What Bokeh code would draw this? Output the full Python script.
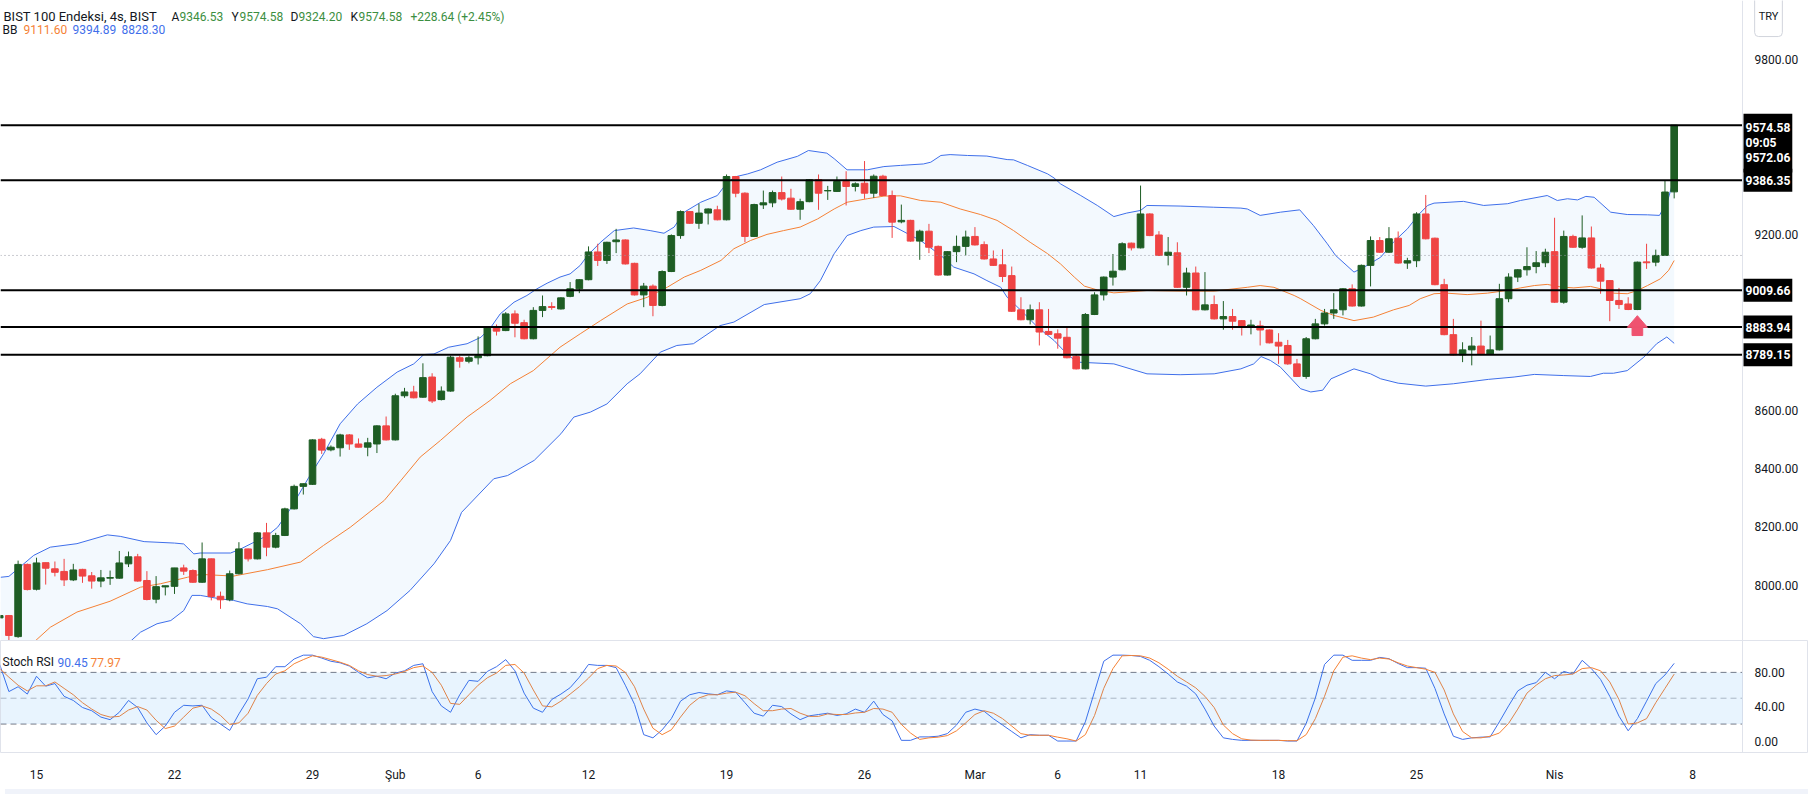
from bokeh.plotting import figure
from bokeh.models import (Range1d, FixedTicker, BoxAnnotation, Label, LinearAxis,
                          ColumnDataSource, PrintfTickFormatter, Div)
from bokeh.layouts import column
from bokeh.embed import file_html
from bokeh.resources import INLINE

# ---------------- data (4h bars, index 0 = first visible bar) ----------------
open_ = [7889, 7897, 7825, 8072, 7987, 8078, 8057, 8048, 8019, 8055,
         8033, 8015, 8025, 8025, 8074, 8098, 8017, 7953, 7995, 7997,
         8060, 8051, 8011, 8091, 7963, 7951, 8040, 8125, 8091, 8180,
         8131, 8171, 8262, 8339, 8346, 8500, 8464, 8471, 8515, 8484,
         8473, 8484, 8546, 8498, 8649, 8662, 8644, 8713, 8636, 8665,
         8779, 8767, 8779, 8786, 8886, 8872, 8929, 8899, 8844, 8941,
         8954, 8946, 8989, 9015, 9046, 9141, 9112, 9176, 9182, 9102,
         8994, 9024, 8958, 9074, 9197, 9279, 9239, 9274, 9285, 9251,
         9399, 9342, 9194, 9302, 9309, 9344, 9325, 9287, 9313, 9388,
         9350, 9348, 9382, 9365, 9376, 9342, 9400, 9334, 9244, 9249,
         9178, 9212, 9160, 9062, 9142, 9160, 9194, 9166, 9117, 9097,
         9060, 8943, 8909, 8943, 8869, 8861, 8849, 8783, 8741, 8927,
         8994, 9055, 9080, 9171, 9155, 9271, 9199, 9129, 9138, 9020,
         9069, 8943, 8961, 8912, 8920, 8906, 8887, 8888, 8874, 8832,
         8821, 8758, 8715, 8844, 8895, 8932, 8943, 9015, 8956, 9095,
         9180, 9140, 9188, 9103, 9111, 9271, 9188, 9029, 8858, 8789,
         8806, 8819, 8792, 8806, 8981, 9055, 9080, 9091, 9104, 9142,
         8969, 9194, 9157, 9189, 9086, 9043, 8975, 8963, 8944, 9107,
         9106, 9129, 9346.53]
high_ = [7900, 7899, 8085, 8075, 8095, 8078, 8082, 8091, 8074, 8057,
         8046, 8053, 8051, 8118, 8116, 8108, 8049, 8032, 7999, 8060,
         8071, 8055, 8147, 8092, 7979, 8051, 8148, 8126, 8182, 8214,
         8180, 8266, 8345, 8349, 8500, 8505, 8479, 8519, 8518, 8503,
         8505, 8548, 8578, 8656, 8676, 8683, 8760, 8726, 8681, 8786,
         8786, 8786, 8852, 8886, 8893, 8935, 8941, 8909, 8952, 8992,
         8969, 8986, 9038, 9048, 9160, 9169, 9176, 9220, 9184, 9104,
         9035, 9030, 9078, 9201, 9283, 9281, 9306, 9290, 9299, 9406,
         9401, 9345, 9306, 9351, 9351, 9399, 9357, 9323, 9390, 9406,
         9367, 9399, 9417, 9379, 9452, 9406, 9405, 9351, 9303, 9251,
         9217, 9237, 9163, 9144, 9197, 9214, 9226, 9177, 9146, 9150,
         9091, 8986, 8961, 8969, 8946, 8876, 8884, 8792, 8932, 9003,
         9057, 9134, 9174, 9173, 9368, 9273, 9212, 9192, 9174, 9087,
         9091, 9072, 8992, 8973, 8946, 8908, 8909, 8906, 8876, 8863,
         8840, 8775, 8850, 8912, 8946, 9000, 9017, 9030, 9098, 9194,
         9192, 9226, 9211, 9121, 9277, 9336, 9190, 9049, 8912, 8832,
         8850, 8906, 8855, 9032, 9068, 9082, 9157, 9144, 9152, 9258,
         9214, 9200, 9266, 9228, 9100, 9045, 9018, 8986, 9108, 9169,
         9149, 9385, 9574.58]
low_ = [7885, 7795, 7821, 7983, 7983, 8003, 8031, 7998, 8015, 8009,
        7989, 7994, 8002, 8023, 8063, 8013, 7949, 7939, 7966, 7971,
        8036, 8009, 8009, 7949, 7920, 7946, 8038, 8082, 8089, 8100,
        8127, 8169, 8260, 8311, 8344, 8450, 8459, 8441, 8464, 8472,
        8442, 8453, 8496, 8496, 8642, 8640, 8642, 8624, 8633, 8663,
        8745, 8760, 8756, 8784, 8855, 8870, 8849, 8842, 8842, 8918,
        8943, 8944, 8986, 9000, 9044, 9093, 9100, 9137, 9098, 8992,
        8952, 8921, 8955, 9072, 9186, 9237, 9220, 9235, 9249, 9249,
        9328, 9174, 9192, 9288, 9294, 9317, 9285, 9251, 9311, 9285,
        9319, 9346, 9300, 9348, 9323, 9326, 9332, 9189, 9239, 9176,
        9114, 9137, 9060, 9060, 9106, 9129, 9163, 9115, 9093, 9038,
        8936, 8907, 8893, 8821, 8857, 8810, 8777, 8739, 8739, 8925,
        8975, 9026, 9078, 9146, 9153, 9195, 9127, 9095, 9018, 8992,
        8941, 8941, 8910, 8875, 8875, 8855, 8859, 8821, 8828, 8758,
        8755, 8713, 8707, 8842, 8889, 8912, 8924, 8954, 8954, 9023,
        9138, 9138, 9101, 9083, 9089, 9184, 9027, 8856, 8787, 8764,
        8753, 8788, 8790, 8804, 8969, 9038, 9060, 9068, 9089, 8967,
        8964, 9155, 9152, 9084, 8998, 8904, 8946, 8942, 8942, 9083,
        9092, 9127, 9324.20]
close_ = [7897, 7829, 8072, 7986, 8077, 8059, 8045, 8019, 8053, 8032,
          8015, 8026, 8027, 8077, 8098, 8015, 7952, 7996, 7999, 8060,
          8049, 8011, 8091, 7962, 7951, 8040, 8125, 8091, 8180, 8131,
          8171, 8262, 8339, 8348, 8498, 8463, 8473, 8515, 8484, 8473,
          8488, 8546, 8498, 8649, 8662, 8642, 8711, 8631, 8665, 8781,
          8767, 8779, 8786, 8884, 8870, 8929, 8897, 8844, 8941, 8954,
          8951, 8984, 9015, 9046, 9141, 9112, 9174, 9182, 9100, 8994,
          9024, 8958, 9074, 9197, 9279, 9239, 9274, 9288, 9251, 9399,
          9342, 9194, 9303, 9309, 9344, 9322, 9287, 9313, 9388, 9342,
          9351, 9382, 9365, 9374, 9342, 9400, 9334, 9243, 9249, 9178,
          9212, 9157, 9062, 9142, 9160, 9192, 9165, 9117, 9095, 9057,
          8938, 8909, 8943, 8867, 8859, 8846, 8779, 8741, 8927, 8994,
          9055, 9075, 9169, 9155, 9271, 9197, 9129, 9140, 9020, 9069,
          8943, 8960, 8912, 8920, 8904, 8886, 8891, 8874, 8830, 8819,
          8758, 8715, 8844, 8895, 8932, 8943, 9015, 8956, 9095, 9180,
          9140, 9186, 9103, 9111, 9271, 9186, 9029, 8858, 8789, 8806,
          8819, 8790, 8806, 8981, 9055, 9080, 9091, 9104, 9140, 8969,
          9194, 9157, 9189, 9086, 9041, 8975, 8961, 8944, 9106, 9104,
          9129, 9346, 9574.58]

# Bollinger Bands (bar position, price)
bb_upper_k = [0.1, 1.0, 3.7, 5.5, 8.4, 11.7, 13.1, 15.7, 19.0, 20.0,
              21.1, 21.8, 25.1, 26.2, 29.1, 30.2, 31.6, 32.3, 33.6, 35.2,
              37.0, 38.9, 41.0, 43.2, 45.0, 46.1, 47.2, 48.8, 50.8, 52.3,
              53.4, 54.4, 55.9, 57.3, 58.4, 59.5, 60.9, 62.0, 63.1, 63.9,
              65.3, 66.8, 68.9, 70.7, 72.2, 73.3, 74.4, 76.2, 78.0, 78.7,
              79.8, 81.3, 82.7, 84.5, 86.7, 87.9, 89.9, 90.7, 92.1, 94.3,
              96.1, 97.9, 100.4, 101.2, 102.3, 103.3, 105.2, 107.3, 109.5, 110.2,
              111.7, 113.9, 114.6, 115.3, 117.5, 119.3, 121.1, 122.5, 124.0, 124.7,
              128.3, 131.9, 134.9, 135.6, 137.0, 139.2, 141.3, 142.8, 144.3, 145.2,
              147.2, 148.3, 150.1, 151.5, 153.0, 154.3, 155.2, 155.9, 159.1, 161.3,
              163.9, 165.3, 168.2, 169.3, 170.4, 171.5, 172.4, 173.3, 175.1, 176.9,
              179.1, 180.4, 181.3, 182.0]
bb_upper = [8028, 8031, 8103, 8131, 8143, 8173, 8168, 8150, 8145, 8142,
            8108, 8111, 8111, 8125, 8171, 8199, 8262, 8300, 8370, 8450,
            8553, 8621, 8678, 8730, 8758, 8790, 8792, 8815, 8827, 8849,
            8884, 8929, 8969, 8992, 9015, 9034, 9055, 9066, 9095, 9129,
            9174, 9214, 9223, 9214, 9205, 9226, 9277, 9311, 9334, 9363,
            9397, 9408, 9422, 9448, 9468, 9488, 9479, 9460, 9422, 9422,
            9433, 9437, 9442, 9448, 9471, 9474, 9471, 9469, 9457, 9456,
            9437, 9408, 9394, 9374, 9334, 9300, 9262, 9274, 9283, 9300,
            9298, 9294, 9291, 9288, 9266, 9277, 9285, 9231, 9169, 9129,
            9072, 9089, 9123, 9175, 9220, 9271, 9300, 9308, 9314, 9300,
            9306, 9317, 9334, 9317, 9323, 9319, 9331, 9328, 9277, 9269,
            9268, 9266, 9317, 9394.89]
bb_mid_k = [0, 3.5, 5.5, 8.4, 12.0, 15.3, 17.5, 20.4, 21.8, 25.4,
            29.1, 32.7, 35.2, 38.1, 41.8, 43.6, 45.7, 47.9, 50.8, 53.3,
            55.5, 58.0, 60.9, 63.1, 65.3, 68.2, 70.4, 72.6, 74.4, 76.2,
            78.4, 79.8, 81.6, 83.4, 85.2, 87.0, 88.9, 90.7, 92.1, 94.3,
            96.1, 97.9, 100.1, 102.3, 104.4, 106.6, 108.4, 110.2, 112.0, 113.9,
            115.3, 116.8, 117.9, 119.3, 121.1, 124.7, 128.3, 132.0, 135.6, 137.0,
            138.5, 140.7, 141.4, 143.6, 145.0, 147.2, 149.3, 151.5, 153.2, 154.4,
            155.9, 157.3, 159.5, 161.7, 163.8, 165.3, 166.8, 168.2, 169.7, 171.1,
            172.9, 174.0, 175.4, 176.9, 178.0, 179.1, 180.5, 181.4, 182.0]
bb_mid = [7720, 7800, 7857, 7909, 7946, 7994, 8006, 8028, 8038, 8032,
          8054, 8080, 8137, 8199, 8291, 8359, 8439, 8496, 8576, 8633,
          8690, 8735, 8815, 8861, 8906, 8963, 8986, 9021, 9055, 9078,
          9112, 9152, 9180, 9201, 9214, 9226, 9254, 9288, 9311, 9323,
          9332, 9333, 9317, 9311, 9288, 9269, 9249, 9214, 9174, 9135,
          9100, 9055, 9024, 9011, 9001, 9009, 9007, 9007, 9020, 9026,
          9020, 8992, 8981, 8941, 8924, 8906, 8918, 8943, 8958, 8981,
          8998, 9000, 8995, 9000, 9009, 9018, 9026, 9030, 9021, 9018,
          9023, 9015, 9000, 8998, 9009, 9026, 9049, 9078, 9111.60]
bb_lower_k = [0, 6, 10.0, 13.9, 15.3, 17.1, 18.6, 20.0, 20.9, 21.8,
              24.0, 25.4, 26.9, 29.1, 30.2, 32.7, 34.1, 35.2, 37.4, 39.9,
              42.1, 44.6, 47.2, 49.0, 50.2, 53.7, 55.2, 58.1, 61.0, 62.4,
              64.2, 66.0, 68.2, 69.6, 71.8, 73.6, 75.4, 78.3, 79.8, 83.1,
              87.0, 88.1, 89.2, 90.7, 92.1, 93.6, 95.0, 97.2, 100.1, 102.3,
              103.7, 105.9, 107.3, 108.8, 109.5, 111.0, 112.8, 114.6, 116.0, 117.1,
              121.1, 124.7, 128.3, 132.0, 134.9, 136.3, 137.1, 138.1, 139.2, 140.3,
              141.4, 142.5, 143.8, 144.7, 147.2, 149.0, 150.1, 152.0, 155.0, 158.0,
              161.8, 164.6, 166.8, 170.0, 172.9, 174.3, 175.4, 176.9, 178.7, 180.1,
              181.2, 182.0]
bb_lower = [7600, 7650, 7720, 7800, 7840, 7869, 7880, 7914, 7966, 7966,
            7954, 7949, 7937, 7928, 7920, 7869, 7825, 7818, 7829, 7869,
            7914, 7983, 8074, 8154, 8250, 8365, 8376, 8428, 8519, 8576,
            8593, 8621, 8690, 8724, 8798, 8821, 8827, 8889, 8901, 8961,
            8981, 8998, 9043, 9135, 9197, 9214, 9226, 9228, 9180, 9129,
            9089, 9066, 9043, 9020, 8986, 8941, 8884, 8838, 8792, 8764,
            8758, 8724, 8721, 8724, 8741, 8758, 8783, 8770, 8747, 8710,
            8673, 8662, 8668, 8707, 8741, 8724, 8707, 8692, 8682, 8690,
            8705, 8713, 8722, 8718, 8715, 8726, 8726, 8735, 8781, 8827,
            8850, 8828.30]

# Stochastic RSI (K, D) per bar
stoch_k = [89.2, 57.7, 63.3, 54.8, 75.5, 64.0, 67.0, 52.2, 47.4, 39.2,
           35.5, 28.1, 25.1, 33.7, 47.4, 39.2, 21.4, 7.7, 17.7, 33.7,
           41.8, 41.1, 41.8, 27.0, 20.0, 12.6, 31.8, 49.2, 72.6, 74.4,
           86.6, 86.6, 95.5, 100.0, 100.0, 96.6, 92.9, 91.1, 87.4, 80.0,
           73.7, 75.5, 72.6, 79.2, 81.8, 88.1, 90.0, 57.7, 41.1, 33.7,
           54.0, 70.7, 69.6, 81.1, 86.6, 94.8, 81.8, 55.9, 38.5, 33.7,
           48.5, 54.8, 62.2, 74.4, 89.2, 88.1, 88.1, 85.5, 65.1, 42.9,
           7.7, 4.0, 13.3, 26.3, 46.6, 54.0, 56.6, 55.1, 54.0, 58.5,
           57.0, 44.8, 32.6, 29.2, 41.8, 40.3, 31.8, 25.1, 29.6, 31.1,
           32.6, 30.0, 31.8, 37.4, 33.7, 46.6, 31.1, 23.7, 1.1, 1.1,
           5.1, 5.1, 5.9, 8.9, 18.9, 33.7, 37.4, 34.8, 26.3, 18.9,
           11.4, 4.0, 7.7, 7.0, 7.0, 0.3, 0.3, 0.3, 22.6, 57.7,
           92.9, 100.0, 100.0, 99.6, 98.5, 94.0, 86.6, 78.1, 68.9, 64.0,
           55.0, 37.4, 17.7, 4.0, 2.2, 1.1, 1.1, 1.1, 1.1, 1.1,
           0.3, 0.3, 20.7, 50.3, 89.2, 100.0, 100.0, 94.0, 94.0, 94.0,
           97.4, 95.9, 90.3, 85.5, 85.5, 84.8, 61.4, 31.8, 5.9, 2.2,
           4.0, 4.8, 5.1, 22.6, 41.1, 58.5, 65.1, 68.1, 80.0, 72.6,
           81.1, 78.1, 94.0, 84.4, 71.8, 52.2, 29.2, 12.2, 26.3, 46.6,
           67.0, 77.0, 90.45]
stoch_d = [84.4, 74.4, 65.1, 58.5, 64.4, 64.4, 68.9, 61.4, 54.0, 44.8,
           37.4, 31.1, 28.1, 28.9, 36.3, 40.3, 36.3, 24.4, 14.8, 17.7,
           28.1, 38.5, 41.1, 37.4, 30.0, 19.6, 21.4, 32.6, 53.3, 67.0,
           78.1, 81.8, 90.0, 94.8, 99.2, 97.7, 94.8, 91.8, 88.1, 81.8,
           77.4, 75.5, 76.3, 78.1, 81.1, 85.5, 87.4, 80.0, 65.1, 44.0,
           42.9, 54.0, 65.1, 73.7, 79.2, 88.1, 89.2, 79.2, 59.6, 41.1,
           40.0, 46.6, 54.8, 63.3, 73.3, 84.4, 88.1, 87.4, 80.0, 63.3,
           37.4, 15.2, 7.7, 13.3, 28.1, 41.8, 50.3, 54.0, 54.0, 55.9,
           57.0, 52.9, 43.7, 35.5, 35.5, 37.4, 38.1, 32.6, 28.9, 28.9,
           31.8, 31.1, 31.1, 32.9, 33.7, 38.1, 37.4, 33.7, 19.6, 9.6,
           2.2, 4.0, 4.8, 6.6, 12.2, 21.4, 31.1, 35.5, 32.6, 26.3,
           17.7, 8.9, 7.0, 7.0, 7.0, 4.8, 2.9, 0.3, 7.7, 30.0,
           61.4, 84.4, 99.2, 99.6, 99.2, 96.6, 91.1, 83.7, 75.5, 68.9,
           62.0, 52.2, 39.2, 18.9, 8.9, 2.9, 1.4, 1.1, 1.1, 1.1,
           0.7, 0.7, 7.7, 26.3, 52.2, 81.8, 97.7, 99.2, 96.6, 94.8,
           96.6, 95.5, 91.1, 87.4, 85.5, 83.7, 80.0, 59.6, 31.8, 11.4,
           4.0, 4.0, 5.9, 9.6, 20.7, 37.4, 55.9, 65.1, 72.6, 76.3,
           77.0, 78.1, 84.4, 85.5, 81.8, 68.9, 48.5, 20.0, 21.4, 26.3,
           44.8, 61.4, 77.97]

hlines = [9574.58, 9386.35, 9009.66, 8883.94, 8789.15]
last_close_label = ["9574.58", "09:05", "9572.06"]
prev_close_line = 9129
price_ticks = [8000, 8200, 8400, 8600, 9200, 9800]
stoch_ticks = [0, 40, 80]
stoch_levels = [80, 50, 20]
time_tick_k = [4, 19, 34, 43, 52, 64, 79, 94, 106, 115, 124, 139, 154, 169, 184]
time_tick_labels = ["15", "22", "29", "Şub", "6", "12", "19", "26", "Mar",
                    "6", "11", "18", "25", "Nis", "8"]
arrow_k = 178
arrow_tip = 8923

# ---------------- styling / layout ----------------
GREEN = "#1e5d24"
RED = "#ef4444"
BLUE = "#3f6fea"
ORANGE = "#f58236"
TXT = "#131722"
FONT = "Roboto"

X_START = 0.087      # left edge of the chart
X_AXIS = 189.43      # where the price scale begins
X_END = 196.6        # right edge of the page
P_BOTTOM, P_TOP = 7811.7, 10001.2


def price_axis(fig, ticks):
    ax = LinearAxis(fixed_location=X_AXIS, ticker=FixedTicker(ticks=ticks),
                    formatter=PrintfTickFormatter(format="%.2f"))
    ax.axis_line_color = "#e0e3eb"
    ax.major_tick_line_color = None
    ax.minor_tick_line_color = None
    ax.major_label_text_font = FONT
    ax.major_label_text_font_size = "12px"
    ax.major_label_text_color = TXT
    ax.major_label_standoff = 6
    fig.add_layout(ax, "right")


main = figure(width=1808, height=640, x_range=Range1d(X_START, X_END),
              y_range=Range1d(P_BOTTOM, P_TOP), output_backend="svg",
              toolbar_location=None, x_axis_location=None, y_axis_location=None,
              min_border_left=0, min_border_right=0, min_border_top=0,
              min_border_bottom=0, title=None)
main.grid.visible = False
main.outline_line_color = None

# Bollinger fill + lines
main.patch(bb_upper_k + bb_lower_k[::-1], bb_upper + bb_lower[::-1],
           fill_color="#2196f3", fill_alpha=0.055, line_color=None)
main.line(bb_upper_k, bb_upper, line_color=BLUE, line_width=1)
main.line(bb_lower_k, bb_lower, line_color=BLUE, line_width=1)
main.line(bb_mid_k, bb_mid, line_color=ORANGE, line_width=1)

# candles
idx = list(range(len(close_)))
colors = [GREEN if c >= o else RED for o, c in zip(open_, close_)]
src = ColumnDataSource(dict(
    x=idx, h=high_, l=low_,
    top=[max(o, c) for o, c in zip(open_, close_)],
    bottom=[min(o, c) for o, c in zip(open_, close_)],
    color=colors))
main.segment(x0="x", y0="h", x1="x", y1="l", line_color="color", line_width=1, source=src)
main.vbar(x="x", width=0.72, top="top", bottom="bottom", fill_color="color",
          line_color="color", line_width=1, source=src)

# previous close dotted line and horizontal levels (chart area only)
main.segment(x0=[X_START], x1=[X_AXIS], y0=[prev_close_line], y1=[prev_close_line],
             line_color="#9598a1", line_width=1, line_dash="1 3")
main.segment(x0=[X_START] * len(hlines), x1=[X_AXIS] * len(hlines), y0=hlines, y1=hlines,
             line_color="black", line_width=2)

# arrow marker
tri_half_w, tri_h, stem_half_w, stem_h = 1.09, 40, 0.58, 28
main.patch([arrow_k - tri_half_w, arrow_k, arrow_k + tri_half_w],
           [arrow_tip - tri_h, arrow_tip, arrow_tip - tri_h],
           fill_color="#ef5370", line_color="#ef5370")
main.quad(left=[arrow_k - stem_half_w], right=[arrow_k + stem_half_w],
          top=[arrow_tip - tri_h], bottom=[arrow_tip - tri_h - stem_h],
          fill_color="#ef5370", line_color="#ef5370")

price_axis(main, price_ticks)

# price labels on the scale
for v in hlines[1:]:
    main.add_layout(Label(x=1743, y=v, x_units="screen", y_units="data",
                          text=f"{v:.2f}", text_color="white", text_font=FONT,
                          text_font_style="bold", text_font_size="12px",
                          text_baseline="middle", text_align="left",
                          background_fill_color="black", padding=(2, 7)))
main.add_layout(Label(x=1743, y=9614, x_units="screen", y_units="data",
                      text="\n".join(last_close_label), text_color="white",
                      text_font=FONT, text_font_style="bold", text_font_size="12px",
                      text_line_height=1.1, text_baseline="top", text_align="left",
                      background_fill_color="black", padding=(2, 7)))
main.add_layout(Label(x=1768, y=9948, x_units="screen", y_units="data", text="TRY",
                      text_color=TXT, text_font=FONT, text_font_size="11px",
                      text_baseline="middle", text_align="center",
                      background_fill_color="white", border_line_color="#d1d4dc",
                      border_radius=4, padding=(4, 14)))


def legend(fig, x, y, text, color, size="12px"):
    fig.add_layout(Label(x=x, y=y, x_units="screen", y_units="data", text=text,
                         text_color=color, text_font=FONT, text_font_size=size,
                         text_baseline="alphabetic", text_align="left"))


LG = "#3b8e41"
row1 = 9946.4
legend(main, 3, row1, "BIST 100 Endeksi, 4s, BIST", TXT, "13px")
for xl, letter, val in [(171, "A", "9346.53"), (231, "Y", "9574.58"),
                        (290, "D", "9324.20"), (350, "K", "9574.58")]:
    legend(main, xl, row1, letter, TXT)
    legend(main, xl + 8, row1, val, LG)
legend(main, 410, row1, "+228.64 (+2.45%)", LG)
row2 = 9900.9
legend(main, 2, row2, "BB", TXT)
legend(main, 23, row2, "9111.60", ORANGE)
legend(main, 72, row2, "9394.89", BLUE)
legend(main, 121, row2, "8828.30", BLUE)

# ---------------- Stoch RSI panel ----------------
stoch = figure(width=1808, height=144, x_range=main.x_range, y_range=Range1d(-13, 117),
               output_backend="svg", toolbar_location=None, y_axis_location=None,
               min_border_left=0, min_border_right=0, min_border_top=0,
               min_border_bottom=27, title=None)
stoch.grid.visible = False
stoch.outline_line_color = "#e0e3eb"
stoch.add_layout(BoxAnnotation(left=X_START, right=X_AXIS, bottom=20, top=80,
                               fill_color="#2196f3", fill_alpha=0.1, line_color=None))
stoch.segment(x0=[X_START] * 3, x1=[X_AXIS] * 3, y0=stoch_levels, y1=stoch_levels,
              line_color="#787b86", line_alpha=[1.0, 0.5, 1.0], line_width=1,
              line_dash="6 4")
stoch.line(idx, stoch_k, line_color=BLUE, line_width=1)
stoch.line(idx, stoch_d, line_color=ORANGE, line_width=1)

price_axis(stoch, stoch_ticks)

sx = stoch.xaxis[0]
sx.ticker = FixedTicker(ticks=time_tick_k)
sx.major_label_overrides = {k: lab for k, lab in zip(time_tick_k, time_tick_labels)}
sx.axis_line_color = None
sx.major_tick_line_color = None
sx.minor_tick_line_color = None
sx.major_label_text_font = FONT
sx.major_label_text_font_size = "12px"
sx.major_label_text_color = TXT
sx.major_label_standoff = 9

legend(stoch, 2, 91.8, "Stoch RSI", TXT)
legend(stoch, 57, 91.8, "90.45", BLUE)
legend(stoch, 90, 91.8, "77.97", ORANGE)

strip = Div(width=1808, height=10, styles={"background-color": "#f0f3fa"})

layout = column(main, stoch, strip, spacing=0)
open("out.html", "w").write(file_html(layout, INLINE))
